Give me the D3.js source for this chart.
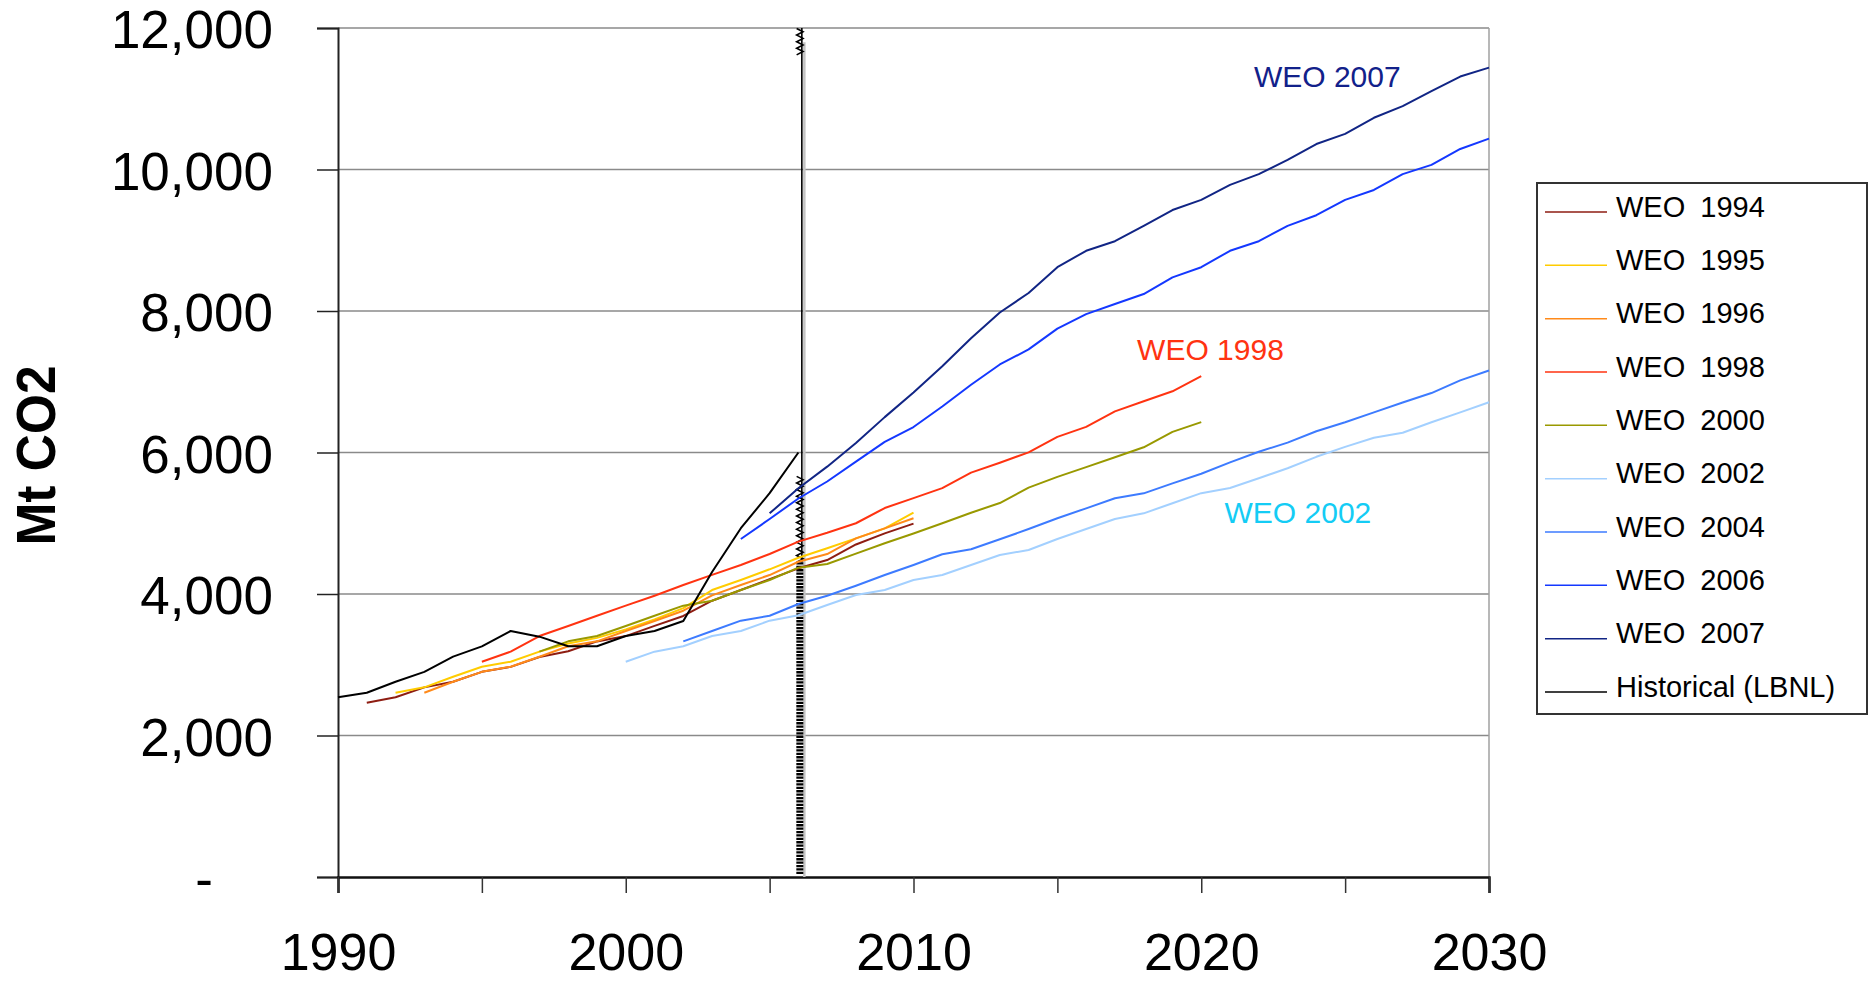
<!DOCTYPE html>
<html>
<head>
<meta charset="utf-8">
<script src="https://cdn.jsdelivr.net/npm/d3@7"></script>
<style>
  html, body { margin: 0; padding: 0; background: #fff; }
  svg { display: block; font-family: "Liberation Sans", Arial, sans-serif; }
</style>
</head>
<body>
<svg id="chart" width="1875" height="981"></svg>
<script>
// WEO projections of China's CO2 emissions (Mt CO2) against the LBNL historical series.
const yTicks = [0, 2000, 4000, 6000, 8000, 10000, 12000];
const xTicks = [1990, 1995, 2000, 2005, 2010, 2015, 2020, 2025, 2030];
const xLabelYears = [1990, 2000, 2010, 2020, 2030];

const seriesNames = ["WEO 1994", "WEO 1995", "WEO 1996", "WEO 1998", "WEO 2000",
                     "WEO 2002", "WEO 2004", "WEO 2006", "WEO 2007", "Historical (LBNL)"];
const seriesColors = ["#8e1d12", "#ffcc00", "#ff8a1a", "#ff3311", "#999900",
                      "#a3d0ff", "#3d7bff", "#1438ff", "#112585", "#000000"];
const seriesStart = [1991, 1992, 1993, 1995, 1997, 2000, 2002, 2004, 2005, 1990];

const weo1994 = [2464, 2540, 2680, 2760, 2900, 2970, 3110, 3190, 3330, 3405, 3550, 3690,
                 3905, 4056, 4210, 4363, 4480, 4700, 4857, 4995];
const weo1995 = [2605, 2681, 2831, 2972, 3043, 3185, 3300, 3380, 3500, 3640, 3800,
                 4056, 4198, 4349, 4513, 4646, 4787, 4928, 5150];
const weo1996 = [2605, 2760, 2900, 2972, 3114, 3261, 3331, 3477, 3618, 3764, 3980,
                 4127, 4268, 4456, 4565, 4787, 4928, 5070];
const weo1998 = [3043, 3185, 3406, 3548, 3693, 3835, 3976, 4127, 4270, 4410, 4565, 4740,
                 4865, 5000, 5215, 5355, 5496, 5715, 5856, 6002, 6221, 6362, 6582, 6724,
                 6865, 7080];
const weo2000 = [3185, 3331, 3406, 3548, 3693, 3835, 3905, 4056, 4198, 4372, 4424, 4571,
                 4718, 4855, 5000, 5149, 5286, 5503, 5655, 5793, 5933, 6074, 6291, 6430];
const weo2002 = [3043, 3185, 3261, 3406, 3477, 3623, 3700, 3845, 3986, 4056, 4198, 4268,
                 4410, 4551, 4622, 4777, 4918, 5060, 5140, 5282, 5425, 5498, 5637, 5777,
                 5939, 6079, 6209, 6279, 6428, 6567, 6710];
const weo2004 = [3331, 3477, 3623, 3693, 3858, 3976, 4117, 4268, 4410, 4561, 4632, 4773,
                 4918, 5070, 5211, 5353, 5423, 5564, 5700, 5860, 6010, 6140, 6300, 6428,
                 6567, 6707, 6840, 7020, 7160];
const weo2006 = [4777, 5060, 5350, 5590, 5870, 6150, 6360, 6650, 6958, 7244, 7457, 7751,
                 7956, 8098, 8240, 8476, 8619, 8851, 8986, 9204, 9354, 9570, 9711, 9934,
                 10066, 10290, 10437];
const weo2007 = [5140, 5495, 5800, 6134, 6500, 6849, 7220, 7614, 7979, 8254, 8619, 8851,
                 8986, 9204, 9427, 9570, 9782, 9934, 10137, 10360, 10503, 10731, 10896,
                 11109, 11314, 11440];
const historical = [2540, 2605, 2760, 2900, 3115, 3260, 3477, 3397, 3261, 3261, 3406,
                    3477, 3618, 4310, 4930, 5425, 6000];

// Vertical marker at the 2006 base year
const markerYear = 2006.05;
const markerLadder = [0, 4450];      // hatched part
const markerZigzags = [[4450, 5700], [11620, 12000]];
const markerThin = [4450, 12000];

// In-plot labels
const noteTexts = ["WEO 2007", "WEO 1998", "WEO 2002"];
const noteColors = ["#12218a", "#ff3311", "#14ccf5"];
const noteYears = [2021.83, 2017.77, 2020.81];
const noteValues = [11166, 7314, 5009];

const seriesValues = [weo1994, weo1995, weo1996, weo1998, weo2000,
                      weo2002, weo2004, weo2006, weo2007, historical];

const series = seriesNames.map((name, i) => ({
  name,
  color: seriesColors[i],
  points: seriesValues[i].map((v, j) => ({ year: seriesStart[i] + j, value: v }))
}));

const svg = d3.select("#chart");
const x = d3.scaleLinear().domain([1990, 2030]).range([338, 1489]);
const y = d3.scaleLinear().domain([0, 12000]).range([877, 28]);

// Gridlines
svg.append("g")
  .selectAll("line")
  .data(yTicks.filter(d => d > 0))
  .join("line")
  .attr("x1", x(1990)).attr("x2", x(2030))
  .attr("y1", d => y(d)).attr("y2", d => y(d))
  .attr("stroke", "#8a8a8a").attr("stroke-width", 1.5);

// Right border of plot area
svg.append("line")
  .attr("x1", x(2030)).attr("x2", x(2030))
  .attr("y1", y(12000)).attr("y2", y(0))
  .attr("stroke", "#a0a0a0").attr("stroke-width", 1.5);

// Y axis
const yAxis = svg.append("g")
  .attr("transform", `translate(${x(1990)},0)`)
  .call(d3.axisLeft(y)
    .tickValues(yTicks)
    .tickSize(21)
    .tickPadding(44)
    .tickFormat(d => d === 0 ? "-" : d3.format(",")(d)));
yAxis.select(".domain").attr("stroke", "#222").attr("stroke-width", 2);
yAxis.selectAll(".tick line").attr("stroke", "#222").attr("stroke-width", 1.5);
yAxis.selectAll(".tick text")
  .attr("font-size", 53)
  .attr("font-family", "Liberation Sans, Arial, sans-serif")
  .attr("fill", "#000")
  .attr("dy", "0.37em")
  .attr("dx", d => d === 0 ? -60 : 0);

// X axis
const xAxis = svg.append("g")
  .attr("transform", `translate(0,${y(0)})`)
  .call(d3.axisBottom(x)
    .tickValues(xTicks)
    .tickSize(16)
    .tickPadding(40)
    .tickFormat(d => xLabelYears.includes(d) ? String(d) : ""));
xAxis.select(".domain").attr("stroke", "#111").attr("stroke-width", 2.5);
xAxis.selectAll(".tick line").attr("stroke", "#333").attr("stroke-width", 1.5);
xAxis.selectAll(".tick text")
  .attr("font-size", 52)
  .attr("font-family", "Liberation Sans, Arial, sans-serif")
  .attr("fill", "#000");

// Y axis title
svg.append("text")
  .attr("transform", `translate(55,${(y(0) + y(12000)) / 2 + 3}) rotate(-90)`)
  .attr("text-anchor", "middle")
  .attr("font-size", 56)
  .attr("font-weight", "bold")
  .attr("textLength", 180)
  .attr("lengthAdjust", "spacingAndGlyphs")
  .text("Mt CO2");

// Base-year marker
const mx = x(markerYear);
svg.append("line")
  .attr("x1", mx + 4.5).attr("x2", mx + 4.5)
  .attr("y1", y(11800)).attr("y2", y(0))
  .attr("stroke", "#c4c4c4").attr("stroke-width", 2.5);
svg.append("line")
  .attr("x1", mx + 2).attr("x2", mx + 2)
  .attr("y1", y(markerThin[0])).attr("y2", y(markerThin[1]))
  .attr("stroke", "#000").attr("stroke-width", 1.6);
svg.append("line")
  .attr("x1", mx).attr("x2", mx)
  .attr("y1", y(markerLadder[0]) - 3).attr("y2", y(markerLadder[1]))
  .attr("stroke", "#000").attr("stroke-width", 7)
  .attr("stroke-dasharray", "2.3 1.1");
markerZigzags.forEach(([lo, hi]) => {
  const step = 3.3;
  const top = y(hi), bottom = y(lo);
  const pts = d3.range(bottom, top, -step).map((py, k) => [mx + (k % 2 ? 3.2 : -3.2), py]);
  svg.append("path")
    .attr("d", d3.line()(pts))
    .attr("fill", "none")
    .attr("stroke", "#000")
    .attr("stroke-width", 1.6);
});

// Series lines
const line = d3.line()
  .x(d => x(d.year))
  .y(d => y(d.value));

svg.append("g")
  .selectAll("path")
  .data(series)
  .join("path")
  .attr("d", d => line(d.points))
  .attr("fill", "none")
  .attr("stroke", d => d.color)
  .attr("stroke-width", 2)
  .attr("stroke-linejoin", "round");

// In-plot labels
svg.append("g")
  .selectAll("text")
  .data(noteTexts)
  .join("text")
  .attr("x", (d, i) => x(noteYears[i]))
  .attr("y", (d, i) => y(noteValues[i]))
  .attr("font-size", 30)
  .attr("fill", (d, i) => noteColors[i])
  .text(d => d);

// Legend
const legend = svg.append("g");
legend.append("rect")
  .attr("x", 1537).attr("y", 183)
  .attr("width", 330).attr("height", 531)
  .attr("fill", "#fff")
  .attr("stroke", "#333").attr("stroke-width", 2);

const rowY = d3.scalePoint().domain(seriesNames).range([206, 686]);
const rows = legend.selectAll("g.row")
  .data(series)
  .join("g")
  .attr("class", "row")
  .attr("transform", d => `translate(0,${rowY(d.name)})`);
rows.append("line")
  .attr("x1", 1545).attr("x2", 1607)
  .attr("y1", 6).attr("y2", 6)
  .attr("stroke", d => d.color)
  .attr("stroke-width", 1.5);
rows.append("text")
  .attr("x", 1616)
  .attr("y", 10.5)
  .attr("font-size", 29)
  .attr("fill", "#000")
  .attr("word-spacing", d => d.name.startsWith("WEO") ? 7 : 0)
  .text(d => d.name);
</script>
</body>
</html>
